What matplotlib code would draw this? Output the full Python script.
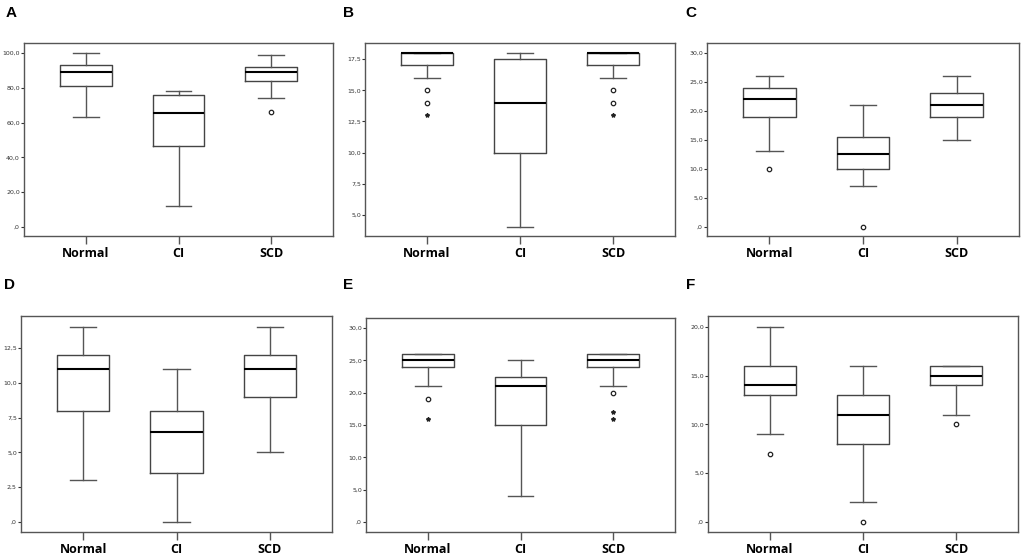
import numpy as np
import matplotlib.pyplot as plt
from matplotlib.ticker import FuncFormatter

groups = ["Normal", "CI", "SCD"]
panel_labels = ["A", "B", "C", "D", "E", "F"]

# per panel, per group: (whislo, q1, med, q3, whishi)
stats_A = [(63, 81, 89, 93, 100), (12, 46.5, 65.5, 76, 78), (74, 84, 89, 92, 99)]
stats_B = [(16, 17, 18, 18, 18), (4, 10, 14, 17.5, 18), (16, 17, 18, 18, 18)]
stats_C = [(13, 19, 22, 24, 26), (7, 10, 12.5, 15.5, 21), (15, 19, 21, 23, 26)]
stats_D = [(3, 8, 11, 12, 14), (0, 3.5, 6.5, 8, 11), (5, 9, 11, 12, 14)]
stats_E = [(21, 24, 25, 26, 26), (4, 15, 21, 22.5, 25), (21, 24, 25, 26, 26)]
stats_F = [(9, 13, 14, 16, 20), (2, 8, 11, 13, 16), (11, 14, 15, 16, 16)]

# outliers (circles) and extremes (asterisks)
out_A = [[], [], [66]]
ext_A = [[], [], []]
out_B = [[15, 14], [], [15, 14]]
ext_B = [[13], [], [13]]
out_C = [[10], [0], []]
ext_C = [[], [], []]
out_D = [[], [], []]
ext_D = [[], [], []]
out_E = [[19], [], [20]]
ext_E = [[16], [], [17, 16]]
out_F = [[7], [0], [10]]
ext_F = [[], [], []]

ticks_A = [0, 20, 40, 60, 80, 100]
ticks_B = [5, 7.5, 10, 12.5, 15, 17.5]
ticks_C = [0, 5, 10, 15, 20, 25, 30]
ticks_D = [0, 2.5, 5, 7.5, 10, 12.5]
ticks_E = [0, 5, 10, 15, 20, 25, 30]
ticks_F = [0, 5, 10, 15, 20]

ylims = [(-5.2, 105.7), (3.3, 18.8), (-1.6, 31.7), (-0.72, 14.8), (-1.55, 31.55), (-1.03, 21.13)]

# axes rectangles in pixels: left, top, right, bottom
W, H = 1021, 555
rects = [(24, 43, 333, 236), (365, 43, 675, 236), (707, 43, 1019, 236),
         (21, 316, 332, 532), (366, 318, 675, 532), (708, 316, 1018, 532)]
label_pos = [(6, 13), (343, 13), (685, 13), (4, 285), (343, 285), (686, 285)]

panels = [
    (stats_A, out_A, ext_A, ticks_A),
    (stats_B, out_B, ext_B, ticks_B),
    (stats_C, out_C, ext_C, ticks_C),
    (stats_D, out_D, ext_D, ticks_D),
    (stats_E, out_E, ext_E, ticks_E),
    (stats_F, out_F, ext_F, ticks_F),
]


def spss_fmt(v, pos):
    s = f"{v:.1f}".replace(".", ",")
    if s.startswith("0,"):
        s = s[1:]
    return s


fig = plt.figure(figsize=(W / 100, H / 100), dpi=100)
fig.patch.set_facecolor("white")

for i, (stats, outs, exts, ticks) in enumerate(panels):
    l, t, r, b = rects[i]
    ax = fig.add_axes([l / W, 1 - b / H, (r - l) / W, (b - t) / H])
    bxp_stats = []
    for g, s in enumerate(stats):
        bxp_stats.append(dict(whislo=s[0], q1=s[1], med=s[2], q3=s[3], whishi=s[4],
                              fliers=[], label=groups[g]))
    ax.bxp(bxp_stats, positions=[1, 2, 3], widths=0.56, showfliers=False,
           boxprops=dict(color="#444444", linewidth=1.0),
           whiskerprops=dict(color="#555555", linewidth=1.0),
           capprops=dict(color="#555555", linewidth=1.0),
           medianprops=dict(color="black", linewidth=1.5),
           capwidths=0.28)
    for g in range(3):
        if outs[g]:
            ax.plot([g + 1] * len(outs[g]), outs[g], "o", ms=3.2, mfc="white",
                    mec="#222222", mew=0.9, linestyle="none")
        if exts[g]:
            ax.plot([g + 1] * len(exts[g]), exts[g], "*", ms=3.0, color="#222222",
                    linestyle="none")
    ax.set_xlim(1 / 3, 11 / 3)
    ax.set_ylim(*ylims[i])
    ax.set_yticks(ticks)
    ax.yaxis.set_major_formatter(FuncFormatter(spss_fmt))
    ax.tick_params(axis="y", length=2, width=0.8, color="#333333", labelsize=4.5,
                   labelcolor="#333333", pad=1)
    ax.tick_params(axis="x", length=6, width=1.0, color="#555555", labelsize=9,
                   pad=2)
    ax.set_xticks([1, 2, 3])
    ax.set_xticklabels(groups, fontweight="bold", family="Open Sans")
    for sp in ax.spines.values():
        sp.set_color("#555555")
        sp.set_linewidth(1.0)
    fig.text(label_pos[i][0] / W, 1 - label_pos[i][1] / H, panel_labels[i],
             fontsize=11, fontweight="bold", family="Liberation Sans",
             ha="left", va="center")

fig.savefig("out.png", dpi=100, facecolor="white")
